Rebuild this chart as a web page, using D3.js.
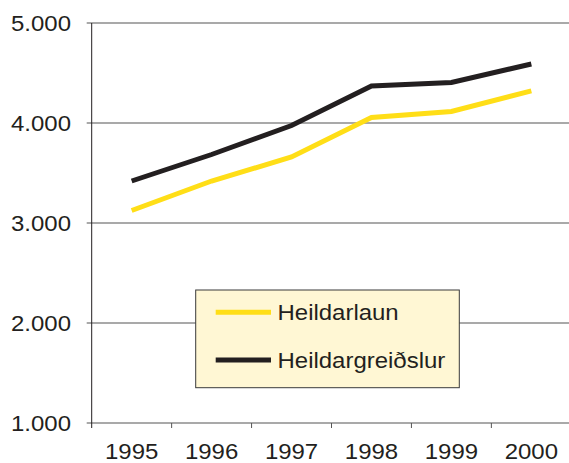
<!DOCTYPE html>
<html>
<head>
<meta charset="utf-8">
<script src="https://cdn.jsdelivr.net/npm/d3@7"></script>
<style>
  body { margin: 0; background: #fff; }
  svg text { font-family: "Liberation Sans", Arial, sans-serif; fill: #231f20; }
</style>
</head>
<body>
<div id="chart"></div>
<script>
'use strict';

// years along the x axis
var years = ['1995', '1996', '1997', '1998', '1999', '2000'];

// series values
var heildarlaun = [3125, 3420, 3660, 4055, 4115, 4322];
var heildargreidslur = [3420, 3685, 3975, 4370, 4405, 4590];

var seriesNames = ['Heildarlaun', 'Heildargreiðslur'];
var seriesColors = ['#ffde17', '#231f20'];

var yTicks = [1000, 2000, 3000, 4000, 5000];

var width = 569, height = 463;
var margin = { top: 23, left: 91.7, bottom: 40, right: -2.3 };

// the original type is a little wider than Liberation Sans
var stretch = 1.07;
var fontSize = '22.4px';

var svg = d3.select('#chart')
    .append('svg')
    .attr('width', width)
    .attr('height', height);

var x = d3.scaleBand()
    .domain(years)
    .range([margin.left, width - margin.right]);

var y = d3.scaleLinear()
    .domain([1000, 5000])
    .range([height - margin.bottom, margin.top]);

var fmt = function (v) { return d3.format(',')(v).replace(/,/g, '.'); };

function place(px, py) {
    return 'translate(' + px + ',' + py + ') scale(' + stretch + ',1)';
}

// horizontal grid lines
svg.append('g')
    .selectAll('line')
    .data(yTicks)
    .join('line')
    .attr('x1', margin.left - 5)
    .attr('x2', width)
    .attr('y1', function (d) { return y(d); })
    .attr('y2', function (d) { return y(d); })
    .attr('stroke', '#8c8c8c')
    .attr('stroke-width', 1.5);

// y labels
svg.append('g')
    .selectAll('text')
    .data(yTicks)
    .join('text')
    .attr('transform', function (d) { return place(71, y(d) + 7.9); })
    .attr('text-anchor', 'end')
    .attr('font-size', fontSize)
    .text(fmt);

// y axis line
svg.append('line')
    .attr('x1', margin.left).attr('x2', margin.left)
    .attr('y1', y(5000)).attr('y2', y(1000) + 5)
    .attr('stroke', '#231f20')
    .attr('stroke-width', 1);

// x ticks between categories
var tickXs = years.slice(1).map(function (d) { return x(d); });
svg.append('g')
    .selectAll('line')
    .data(tickXs)
    .join('line')
    .attr('x1', function (d) { return d; })
    .attr('x2', function (d) { return d; })
    .attr('y1', y(1000))
    .attr('y2', y(1000) + 5)
    .attr('stroke', '#555')
    .attr('stroke-width', 1);

// x labels
svg.append('g')
    .selectAll('text')
    .data(years)
    .join('text')
    .attr('transform', function (d) { return place(x(d) + x.bandwidth() / 2, 458.5); })
    .attr('text-anchor', 'middle')
    .attr('font-size', fontSize)
    .text(function (d) { return d; });

// legend box (drawn before lines; gridline passes behind it)
svg.append('rect')
    .attr('x', 195.7)
    .attr('y', 290)
    .attr('width', 263.6)
    .attr('height', 97.7)
    .attr('fill', '#fff7d4')
    .attr('stroke', '#3a3a3a')
    .attr('stroke-width', 1);

// series lines
var line = d3.line()
    .x(function (d, i) { return x(years[i]) + x.bandwidth() / 2; })
    .y(function (d) { return y(d); });

[heildarlaun, heildargreidslur].forEach(function (values, i) {
    svg.append('path')
        .datum(values)
        .attr('d', line)
        .attr('fill', 'none')
        .attr('stroke', seriesColors[i])
        .attr('stroke-width', 5);
});

// legend entries
seriesNames.forEach(function (name, i) {
    var ly = 312.3 + i * 47.7;
    svg.append('line')
        .attr('x1', 215.7).attr('x2', 271)
        .attr('y1', ly).attr('y2', ly)
        .attr('stroke', seriesColors[i])
        .attr('stroke-width', 5);
    svg.append('text')
        .attr('transform', place(277.5, ly + 7.9))
        .attr('font-size', fontSize)
        .text(name);
});
</script>
</body>
</html>
